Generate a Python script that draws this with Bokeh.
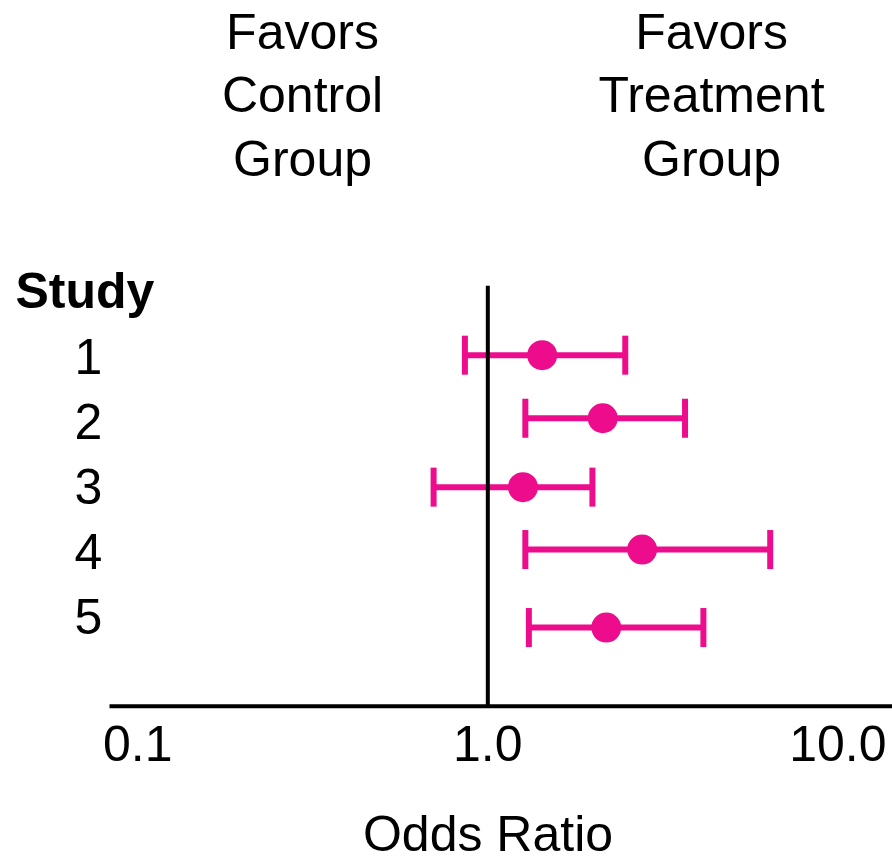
from bokeh.plotting import figure
from bokeh.models import Range1d, FixedTicker, CustomJSTickFormatter
from bokeh.core.properties import value
from bokeh.embed import file_html
from bokeh.resources import INLINE

# ---- data ----
studies = ["1", "2", "3", "4", "5"]
study_rows = [1, 2, 3, 4, 5]
odds_ratio = [1.43, 2.13, 1.26, 2.76, 2.18]
ci_low = [0.86, 1.28, 0.70, 1.28, 1.31]
ci_high = [2.47, 3.66, 1.99, 6.41, 4.13]
point_rows = [0.98, 1.95, 3.01, 3.97, 5.17]
tick_values = [0.1, 1.0, 10.0]
header_left = ["Favors", "Control", "Group"]
header_right = ["Favors", "Treatment", "Group"]
header_rows = [-4.0, -3.03, -2.04]
x_title = "Odds Ratio"

# ---- layout constants ----
FONT = "Liberation Sans"
PINK = "#EC0C8C"
X_START, X_END = 0.04052, 14.33
AXIS_START = 0.083
AXIS_SYM_END = 1.0 / AXIS_START   # symmetric bounds keep the title centred on 1.0
Y_BOTTOM, Y_TOP = 8.785, -4.477
AXIS_ROW = 6.38
REF_TOP = -0.09
LABEL_X = 0.0723
STUDY_X = 0.0447
STUDY_ROW = 0.0
HEAD_LEFT_X = 0.2955
HEAD_RIGHT_X = 4.357

p = figure(width=892, height=862, x_axis_type="log",
           x_range=Range1d(X_START, X_END), y_range=Range1d(Y_BOTTOM, Y_TOP),
           output_backend="svg", toolbar_location=None, y_axis_location=None,
           min_border_left=0, min_border_right=0, min_border_top=0,
           min_border_bottom=0, title=None)
p.grid.visible = False
p.outline_line_color = None
p.background_fill_color = "white"
p.border_fill_color = "white"

ax = p.xaxis[0]
ax.fixed_location = AXIS_ROW
ax.ticker = FixedTicker(ticks=tick_values, minor_ticks=[])
ax.formatter = CustomJSTickFormatter(code="return tick.toFixed(1);")
ax.bounds = (AXIS_START, AXIS_SYM_END)
ax.axis_line_color = None
ax.major_tick_line_color = None
ax.minor_tick_line_color = None
ax.major_tick_out = 0
ax.major_tick_in = 0
ax.major_label_text_font = FONT
ax.major_label_text_font_size = "50px"
ax.major_label_text_color = "black"
ax.major_label_standoff = 20
ax.axis_label = x_title
ax.axis_label_text_font = FONT
ax.axis_label_text_font_size = "50px"
ax.axis_label_text_font_style = "normal"
ax.axis_label_text_color = "black"
ax.axis_label_standoff = 41

# axis line, drawn across to the right edge
p.segment(x0=[AXIS_START], x1=[X_END], y0=[AXIS_ROW], y1=[AXIS_ROW],
          line_width=4, line_color="black", line_cap="butt")

# whiskers
p.segment(x0=ci_low, x1=ci_high, y0=point_rows, y1=point_rows,
          line_width=6, line_color=PINK, line_cap="butt")
p.rect(x=ci_low + ci_high, y=point_rows + point_rows, width=6, height=39,
       width_units="screen", height_units="screen",
       fill_color=PINK, line_color=None)
# reference line at OR = 1
p.segment(x0=[1.0], x1=[1.0], y0=[REF_TOP], y1=[AXIS_ROW],
          line_width=4, line_color="black", line_cap="butt")
p.scatter(x=odds_ratio, y=point_rows, size=30, fill_color=PINK, line_color=None)

# texts
p.text(x=[LABEL_X] * len(studies), y=study_rows, text=studies,
       text_font=value(FONT), text_font_size="50px", text_color="black",
       text_align="center", text_baseline="middle")
p.text(x=[STUDY_X], y=[STUDY_ROW], text=["Study"],
       text_font=value(FONT), text_font_size="50px", text_font_style="bold",
       text_color="black", text_align="left", text_baseline="middle")
p.text(x=[HEAD_LEFT_X] * 3, y=header_rows, text=header_left,
       text_font=value(FONT), text_font_size="50px", text_color="black",
       text_align="center", text_baseline="middle")
p.text(x=[HEAD_RIGHT_X] * 3, y=header_rows, text=header_right,
       text_font=value(FONT), text_font_size="50px", text_color="black",
       text_align="center", text_baseline="middle")

open("out.html", "w").write(file_html(p, INLINE))
